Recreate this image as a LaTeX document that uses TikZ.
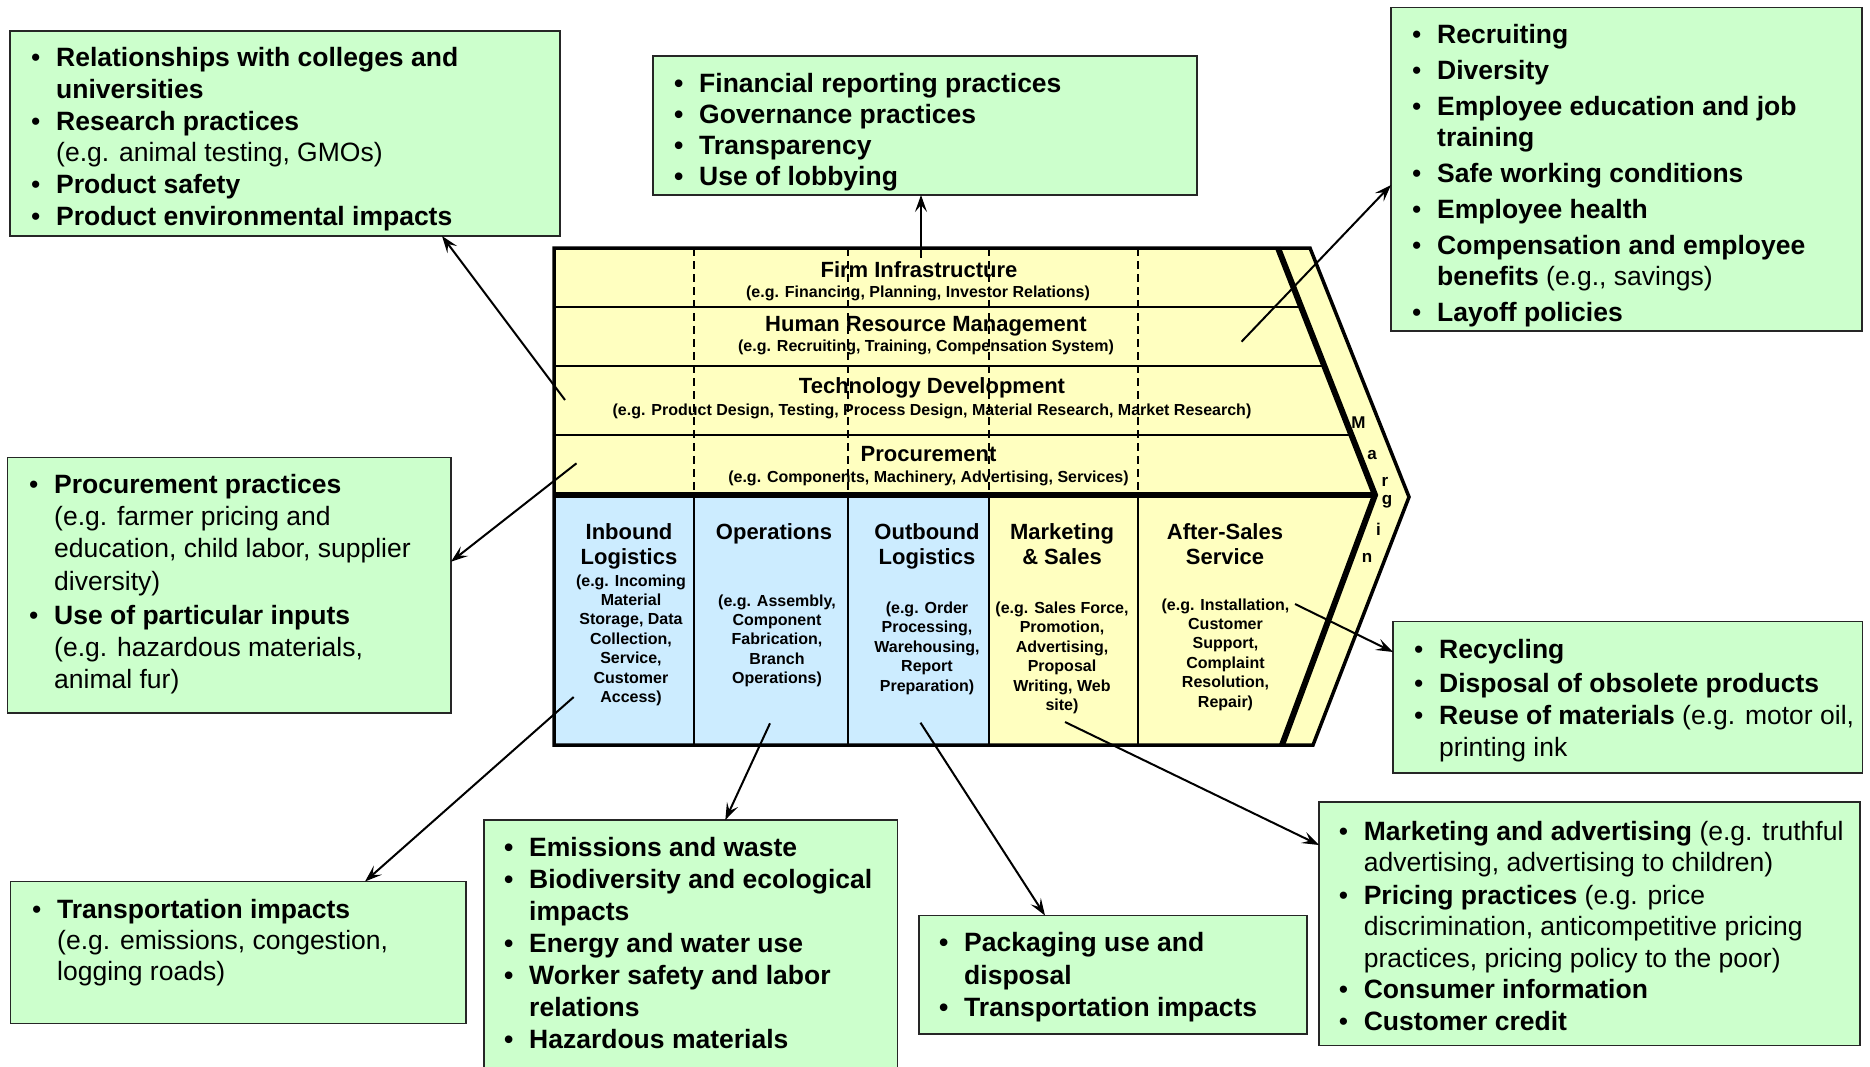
\documentclass[tikz,border=0pt]{standalone}
\usepackage{fontspec}
\setmainfont{Liberation Sans}
\usetikzlibrary{arrows.meta}
\definecolor{gfill}{RGB}{204,255,204}
\definecolor{yfill}{RGB}{255,255,192}
\definecolor{bfill}{RGB}{204,236,255}
\newcommand\bul{\makebox[25pt][l]{\textbullet}}
\newcommand\ind{\hspace*{25pt}}
\begin{document}
\begin{tikzpicture}[x=1pt,y=-1pt,
  gbox/.style={draw=black!85, fill=gfill, line width=1.6pt, anchor=north west, inner sep=0pt, outer sep=0pt},
  btext/.style={anchor=base west, inner sep=0pt},
  ctitle/.style={anchor=base, inner sep=0pt, font=\fontsize{22}{25}\selectfont\bfseries},
  csub/.style={anchor=base, inner sep=0pt, font=\fontsize{16}{19.4}\selectfont\bfseries},
  mlet/.style={inner sep=0pt, font=\fontsize{17}{20}\selectfont\bfseries},
  arr/.style={line width=2pt, -{Stealth[length=17pt,width=12pt,inset=7pt]}},
  thinl/.style={line width=1.5pt},
  dashl/.style={line width=1.5pt, dash pattern=on 8pt off 5pt},
]
\useasboundingbox (0,0) rectangle (1870,1066);
\clip (0,0) rectangle (1870,1066);
\fill[white] (0,0) rectangle (1870,1066);

% ---------- value chain ----------
\fill[yfill] (554,248) -- (1310,248) -- (1409,497) -- (1313,745) -- (554,745) -- cycle;
\fill[bfill] (554,495) rectangle (989,745);
% support rows
\draw[thinl] (554,307) -- (1301,307);
\draw[thinl] (554,366) -- (1324,366);
\draw[thinl] (554,435) -- (1351,435);
% dashed separators in support area
\foreach \xx in {694,848,989,1138}{
  \draw[dashl] (\xx,248) -- (\xx,495);
  \draw[thinl] (\xx,495) -- (\xx,745);
}
% thick lines
\draw[line width=6pt] (554,495) -- (1375,495);
\draw[line width=6pt] (1278,248) -- (1375,495) -- (1282,745);
\draw[line width=3.5pt, line join=miter] (554,248) -- (1310,248) -- (1409,497) -- (1313,745) -- (554,745) -- cycle;

% support texts
\node[ctitle] (fiT) at (919,277) {Firm Infrastructure};
\node[csub] (fiS) at (918,297) {(e.g. Financing, Planning, Investor Relations)};
\node[ctitle] (hrT) at (926,331) {Human Resource Management};
\node[csub] (hrS) at (926,351) {(e.g. Recruiting, Training, Compensation System)};
\node[ctitle] (tdT) at (932,393.5) {Technology Development};
\node[csub] (tdS) at (932,415.5) {(e.g. Product Design, Testing, Process Design, Material Research, Market Research)};
\node[ctitle] (prT) at (928.5,461.5) {Procurement};
\node[csub] (prS) at (928.5,482.5) {(e.g. Components, Machinery, Advertising, Services)};

% primary texts
\node[ctitle] (ilT) at (629,539.5) {\begin{tabular}[t]{@{}c@{}}Inbound\\Logistics\end{tabular}};
\node[csub] (ilS) at (631,586) {\begin{tabular}[t]{@{}c@{}}(e.g. Incoming\\Material\\Storage, Data\\Collection,\\Service,\\Customer\\Access)\end{tabular}};
\node[ctitle] (opT) at (774,539.5) {Operations};
\node[csub] (opS) at (777,606) {\begin{tabular}[t]{@{}c@{}}(e.g. Assembly,\\Component\\Fabrication,\\Branch\\Operations)\end{tabular}};
\node[ctitle] (olT) at (927,539.5) {\begin{tabular}[t]{@{}c@{}}Outbound\\Logistics\end{tabular}};
\node[csub] (olS) at (927,613.5) {\begin{tabular}[t]{@{}c@{}}(e.g. Order\\Processing,\\Warehousing,\\Report\\Preparation)\end{tabular}};
\node[ctitle] (msT) at (1062,539.5) {\begin{tabular}[t]{@{}c@{}}Marketing\\\& Sales\end{tabular}};
\node[csub] (msS) at (1062,613.5) {\begin{tabular}[t]{@{}c@{}}(e.g. Sales Force,\\Promotion,\\Advertising,\\Proposal\\Writing, Web\\site)\end{tabular}};
\node[ctitle] (asT) at (1225,539.5) {\begin{tabular}[t]{@{}c@{}}After-Sales\\Service\end{tabular}};
\node[csub] (asS) at (1225.5,610) {\begin{tabular}[t]{@{}c@{}}(e.g. Installation,\\Customer\\Support,\\Complaint\\Resolution,\\Repair)\end{tabular}};

% margin letters
\node[mlet] (m1) at (1358.5,422.5) {M};
\node[mlet] (m2) at (1372,455) {a};
\node[mlet] (m3) at (1385,482) {r};
\node[mlet] (m4) at (1387,502) {g};
\node[mlet] (m5) at (1378.5,529) {i};
\node[mlet] (m6) at (1367,558) {n};

% ---------- green boxes ----------
\node[gbox, minimum width=550pt, minimum height=205pt] (bR) at (10,31) {};
\node[btext, font=\fontsize{26.5}{31.7}\selectfont] (tR) at (31,66.8) {\begin{tabular}[t]{@{}l@{}}
\bul\textbf{Relationships with colleges and}\\
\ind\textbf{universities}\\
\bul\textbf{Research practices}\\
\ind(e.g. animal testing, GMOs)\\
\bul\textbf{Product safety}\\
\bul\textbf{Product environmental impacts}\end{tabular}};

\node[gbox, minimum width=544pt, minimum height=139pt] (bG) at (653,56) {};
\node[btext, font=\fontsize{26.5}{30.8}\selectfont\bfseries] (tG) at (674,92.8) {\begin{tabular}[t]{@{}l@{}}
\bul Financial reporting practices\\
\bul Governance practices\\
\bul Transparency\\
\bul Use of lobbying\end{tabular}};

\node[gbox, minimum width=471pt, minimum height=323.5pt] (bH) at (1391,7.5) {};
\node[btext, font=\fontsize{26.5}{31}\selectfont] (tH) at (1412,43.5) {\begin{tabular}[t]{@{}l@{}}
\bul\textbf{Recruiting}\\[5pt]
\bul\textbf{Diversity}\\[5pt]
\bul\textbf{Employee education and job}\\
\ind\textbf{training}\\[5pt]
\bul\textbf{Safe working conditions}\\[5pt]
\bul\textbf{Employee health}\\[5pt]
\bul\textbf{Compensation and employee}\\
\ind\textbf{benefits} (e.g., savings)\\[5pt]
\bul\textbf{Layoff policies}\end{tabular}};

\node[gbox, minimum width=443.5pt, minimum height=255.5pt] (bP) at (7.5,457.5) {};
\node[btext, font=\fontsize{26.5}{32.2}\selectfont] (tP) at (29,493.5) {\begin{tabular}[t]{@{}l@{}}
\bul\textbf{Procurement practices}\\
\ind(e.g. farmer pricing and\\
\ind education, child labor, supplier\\
\ind diversity)\\[2pt]
\bul\textbf{Use of particular inputs}\\
\ind(e.g. hazardous materials,\\
\ind animal fur)\end{tabular}};

\node[gbox, minimum width=455.5pt, minimum height=142pt] (bT) at (10.5,881.5) {};
\node[btext, font=\fontsize{26.5}{31}\selectfont] (tT) at (32,918.5) {\begin{tabular}[t]{@{}l@{}}
\bul\textbf{Transportation impacts}\\
\ind(e.g. emissions, congestion,\\
\ind logging roads)\end{tabular}};

\node[gbox, minimum width=413.5pt, minimum height=262pt] (bE) at (484,820) {};
\node[btext, font=\fontsize{26.5}{31.9}\selectfont\bfseries] (tE) at (504,856.8) {\begin{tabular}[t]{@{}l@{}}
\bul Emissions and waste\\
\bul Biodiversity and ecological\\
\ind impacts\\
\bul Energy and water use\\
\bul Worker safety and labor\\
\ind relations\\
\bul Hazardous materials\end{tabular}};

\node[gbox, minimum width=388pt, minimum height=118.5pt] (bK) at (919,915.5) {};
\node[btext, font=\fontsize{26.5}{32.5}\selectfont\bfseries] (tK) at (939,951.8) {\begin{tabular}[t]{@{}l@{}}
\bul Packaging use and\\
\ind disposal\\
\bul Transportation impacts\end{tabular}};

\node[gbox, minimum width=469.5pt, minimum height=151.5pt] (bY) at (1393,621.5) {};
\node[btext, font=\fontsize{26.5}{32}\selectfont] (tY) at (1414,658.5) {\begin{tabular}[t]{@{}l@{}}
\bul\textbf{Recycling}\\[2pt]
\bul\textbf{Disposal of obsolete products}\\
\bul\textbf{Reuse of materials} (e.g. motor oil,\\
\ind printing ink\end{tabular}};

\node[gbox, minimum width=541pt, minimum height=243.5pt] (bM) at (1319,802) {};
\node[btext, font=\fontsize{26.5}{31.4}\selectfont] (tM) at (1338.6,840.2) {\begin{tabular}[t]{@{}l@{}}
\bul\textbf{Marketing and advertising} (e.g. truthful\\
\ind advertising, advertising to children)\\[1.5pt]
\bul\textbf{Pricing practices} (e.g. price\\
\ind discrimination, anticompetitive pricing\\
\ind practices, pricing policy to the poor)\\
\bul\textbf{Consumer information}\\
\bul\textbf{Customer credit}\end{tabular}};

% ---------- connectors ----------
\coordinate (sG) at (921,258);
\coordinate (sR) at (565,400);   \coordinate (eR) at (442,0);
\coordinate (sH) at (1241.5,341.7); \coordinate (eH) at (0,185);
\coordinate (sP) at (576.5,463.3); \coordinate (eP) at (0,561.7);
\coordinate (sI) at (573.7,697);  \coordinate (eI) at (365,0);
\coordinate (sO) at (770,723.3);  \coordinate (eO) at (725.3,0);
\coordinate (sL) at (920.5,722.7); \coordinate (eL) at (1045,0);
\coordinate (sA) at (1295,604);   \coordinate (eA) at (0,652);
\coordinate (sM) at (1065,722);   \coordinate (eM) at (0,845);

\draw[arr] (sG) -- (sG |- bG.south);
\draw[arr] (sR) -- (eR |- bR.south);
\draw[arr] (sH) -- (bH.west |- eH);
\draw[arr] (sP) -- (bP.east |- eP);
\draw[arr] (sI) -- (eI |- bT.north);
\draw[arr] (sO) -- (eO |- bE.north);
\draw[arr] (sL) -- (eL |- bK.north);
\draw[arr] (sA) -- (bY.west |- eA);
\draw[arr] (sM) -- (bM.west |- eM);
\end{tikzpicture}
\end{document}
